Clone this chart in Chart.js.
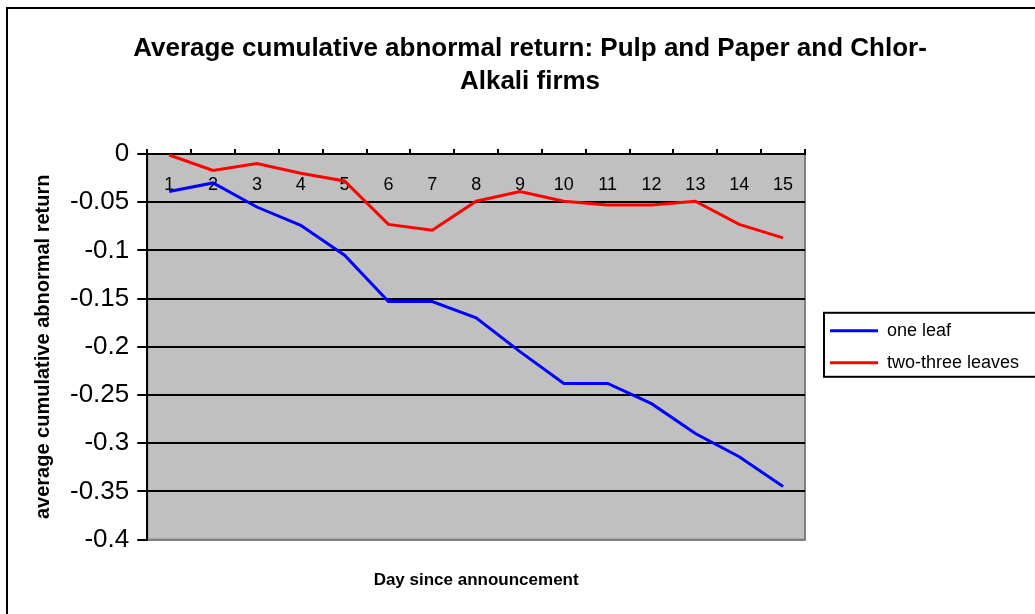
<!DOCTYPE html>
<html lang="en">
<head>
    <meta charset="UTF-8">
    <title>Average cumulative abnormal return</title>
    <script src="https://cdn.jsdelivr.net/npm/chart.js"></script>
    <style>
        body {
            margin: 0;
            padding: 0;
            background-color: #fff;
            overflow: hidden;
        }
        .frame {
            position: absolute;
            left: 6px;
            top: 7px;
            width: 1100px;
            height: 700px;
            border: 2px solid #000;
        }
        #chartContainer {
            position: absolute;
            left: 0;
            top: 0;
            width: 1035px;
            height: 614px;
        }
    </style>
</head>
<body>

    <div class="frame"></div>
    <div id="chartContainer">
        <canvas id="carChart"></canvas>
    </div>

    <script>
        // Data
        const days = ['1', '2', '3', '4', '5', '6', '7', '8', '9', '10', '11', '12', '13', '14', '15'];
        const oneLeaf = [-0.039, -0.030, -0.055, -0.074, -0.105, -0.153, -0.153, -0.170, -0.205, -0.238, -0.238, -0.259, -0.290, -0.314, -0.345];
        const twoThreeLeaves = [-0.001, -0.017, -0.010, -0.020, -0.028, -0.073, -0.079, -0.049, -0.039, -0.049, -0.053, -0.053, -0.049, -0.073, -0.087];
        const yTicks = [0, -0.05, -0.1, -0.15, -0.2, -0.25, -0.3, -0.35, -0.4];

        const FONT = "'Liberation Sans', Arial, sans-serif";

        // Grey plot area and a box round the legend
        const plotArea = {
            id: 'plotArea',
            afterInit(chart) {
                const lg = chart.legend;
                const fit = lg.fit;
                lg.fit = function () {
                    fit.call(this);
                    this.width = 228;
                };
            },
            afterLayout(chart) {
                chart.legend.left = chart.chartArea.right + 11;
            },
            beforeDraw(chart) {
                const { ctx, chartArea: a } = chart;
                ctx.save();
                ctx.fillStyle = '#c0c0c0';
                ctx.fillRect(a.left, a.top, a.width, a.height);
                ctx.strokeStyle = '#808080';
                ctx.lineWidth = 2;
                ctx.strokeRect(a.left, a.top, a.width, a.height);
                ctx.restore();
            },
            afterDraw(chart) {
                const hb = chart.legend.legendHitBoxes;
                if (!hb || !hb.length) return;
                const ctx = chart.ctx;
                const last = hb[hb.length - 1];
                const x = hb[0].left - 6;
                const y = hb[0].top - 9;
                const h = last.top + last.height + 5 - y;
                ctx.save();
                ctx.strokeStyle = '#000';
                ctx.lineWidth = 2;
                ctx.strokeRect(x, y, chart.width - x + 10, h);
                ctx.restore();
            }
        };

        const ctx = document.getElementById('carChart').getContext('2d');
        const chart = new Chart(ctx, {
            type: 'line',
            data: {
                labels: days,
                datasets: [{
                    label: 'one leaf',
                    data: oneLeaf,
                    borderColor: '#0000ff',
                    backgroundColor: '#0000ff',
                    borderWidth: 3,
                    pointRadius: 0,
                    tension: 0
                }, {
                    label: 'two-three leaves',
                    data: twoThreeLeaves,
                    borderColor: '#ff0000',
                    backgroundColor: '#ff0000',
                    borderWidth: 3,
                    pointRadius: 0,
                    tension: 0
                }]
            },
            options: {
                responsive: true,
                maintainAspectRatio: false,
                animation: false,
                layout: {
                    padding: { left: 27, right: 2, top: 0, bottom: 19 }
                },
                plugins: {
                    title: {
                        display: true,
                        text: ['Average cumulative abnormal return: Pulp and Paper and Chlor-', 'Alkali firms'],
                        color: '#000',
                        font: { family: FONT, size: 26, weight: 'bold', lineHeight: 1.25 },
                        padding: { top: 33, bottom: 56 }
                    },
                    legend: {
                        position: 'right',
                        fullSize: false,
                        labels: {
                            color: '#000',
                            font: { family: FONT, size: 18 },
                            usePointStyle: true,
                            pointStyle: 'line',
                            pointStyleWidth: 48,
                            padding: 14
                        }
                    },
                    tooltip: { enabled: false }
                },
                scales: {
                    x: {
                        type: 'category',
                        position: { y: 0 },
                        offset: true,
                        grid: {
                            offset: true,
                            drawOnChartArea: false,
                            drawTicks: true,
                            tickLength: -6,
                            color: '#000',
                            lineWidth: 2
                        },
                        border: { display: true, color: '#000', width: 2 },
                        ticks: {
                            color: '#000',
                            font: { family: FONT, size: 18 },
                            padding: 26,
                            maxRotation: 0,
                            autoSkip: false
                        }
                    },
                    x2: {
                        type: 'category',
                        position: 'bottom',
                        grid: { display: false, drawTicks: false },
                        border: { display: false },
                        ticks: { display: false },
                        title: {
                            display: true,
                            text: 'Day since announcement',
                            color: '#000',
                            font: { family: FONT, size: 17, weight: 'bold' },
                            padding: { top: 31, bottom: 4 }
                        }
                    },
                    y: {
                        min: -0.4,
                        max: 0,
                        afterBuildTicks: (scale) => {
                            scale.ticks = yTicks.map(v => ({ value: v }));
                        },
                        grid: {
                            color: (c) => (c.tick && c.tick.value === -0.4) ? '#808080' : '#000',
                            tickColor: '#000',
                            lineWidth: 2,
                            tickLength: 10
                        },
                        border: { display: true, color: '#000', width: 2 },
                        ticks: {
                            color: '#000',
                            font: { family: FONT, size: 26 },
                            padding: 8,
                            callback: (v) => String(v)
                        },
                        title: {
                            display: true,
                            text: 'average cumulative abnormal return',
                            color: '#000',
                            font: { family: FONT, size: 20, weight: 'bold' },
                            padding: { top: 4, bottom: 7 }
                        }
                    }
                }
            },
            plugins: [plotArea]
        });
    </script>

</body>
</html>
